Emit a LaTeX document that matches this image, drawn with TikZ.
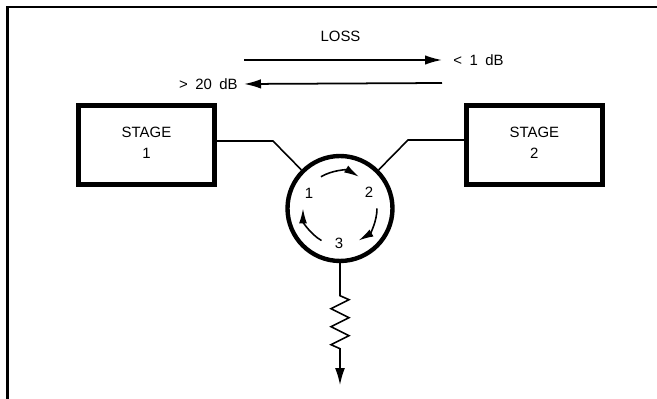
\documentclass[tikz,border=0pt]{standalone}
\usepackage{fontspec}
\setmainfont[WordSpace=1.8]{Liberation Sans}
\usetikzlibrary{positioning, arrows.meta}

\begin{document}
\begin{tikzpicture}[
        x=0.02cm,
        y=0.02cm,
        stage/.style={
            rectangle,
            draw,
            line width=2.5pt,
            minimum width=2.72cm,
            minimum height=1.58cm,
            align=center,
            font=\fontsize{8.5}{11.9}\selectfont
        },
        circulator/.style={
            circle,
            draw,
            line width=2.5pt,
            minimum size=2.1cm,
            inner sep=0pt
        },
        lead/.style={
            line width=0.9pt
        },
        loss/.style={
            line width=1pt,
            -{Latex[length=0.34cm,width=0.19cm]}
        },
        flow/.style={
            line width=0.9pt,
            -{Latex[length=0.3cm,width=0.16cm]}
        },
        tag/.style={
            inner sep=0pt,
            font=\fontsize{8.5}{11.9}\selectfont
        }
    ]
    \useasboundingbox (0,0) rectangle (657,399);

    % Frame
    \coordinate (frameA) at (7.5,0);
    \coordinate (frameB) at (7.5,392);
    \coordinate (frameC) at (657,392);
    \draw[line width=1.7pt] (frameA) -- (frameB) -- (frameC);

    % Stages
    \node[stage] (stage1) at (146.5,254) {STAGE\\1\rule[-2.8pt]{0pt}{0pt}};
    \node[stage, right=4.95cm of stage1] (stage2) {STAGE\\2\rule[-2.8pt]{0pt}{0pt}};

    % Circulator
    \node[circulator] (circ) at (340,190.5) {};
    \node[tag] (port1) at (309,206) {1};
    \node[tag] (port2) at (369,207) {2};
    \node[tag] (port3) at (339,156) {3};
    \draw[flow] (circ.center) ++(121:37) arc[start angle=121, end angle=59, radius=37];
    \draw[flow] (circ.center) ++(0:37) arc[start angle=0, end angle=-60, radius=37];
    \draw[flow] (circ.center) ++(-120:37) arc[start angle=-120, end angle=-180, radius=37];

    % Loss arrows
    \coordinate (fwdA) at (244,339);
    \coordinate (fwdB) at (442,339);
    \coordinate (revA) at (442,316);
    \coordinate (revB) at (244,315);
    \draw[loss] (fwdA) -- (fwdB);
    \draw[loss] (revA) -- (revB);
    \node[tag] (losstext) at (340.5,362.5) {LOSS};
    \node[tag, right=0.22cm of fwdB] (lowloss) {< 1 dB};
    \node[tag, left=0.12cm of revB] (highloss) {> 20 dB};

    % Leads
    \coordinate (bend1) at (273,258);
    \coordinate (bend2) at (408,259);
    \coordinate (drain) at (340,14);
    \draw[lead] (stage1.east |- bend1) -- (bend1) -- (circ.135);
    \draw[lead] (stage2.west |- bend2) -- (bend2) -- (circ.45);
    \draw[lead, -{Latex[length=0.34cm,width=0.2cm]}] (circ.south) -- ++(0,-32.5)
        -- ++(9,-4) -- ++(-18,-9) -- ++(18,-9) -- ++(-18,-9) -- ++(18,-9) -- ++(-18,-9) -- ++(9,-4)
        -- (drain);

\end{tikzpicture}
\end{document}
